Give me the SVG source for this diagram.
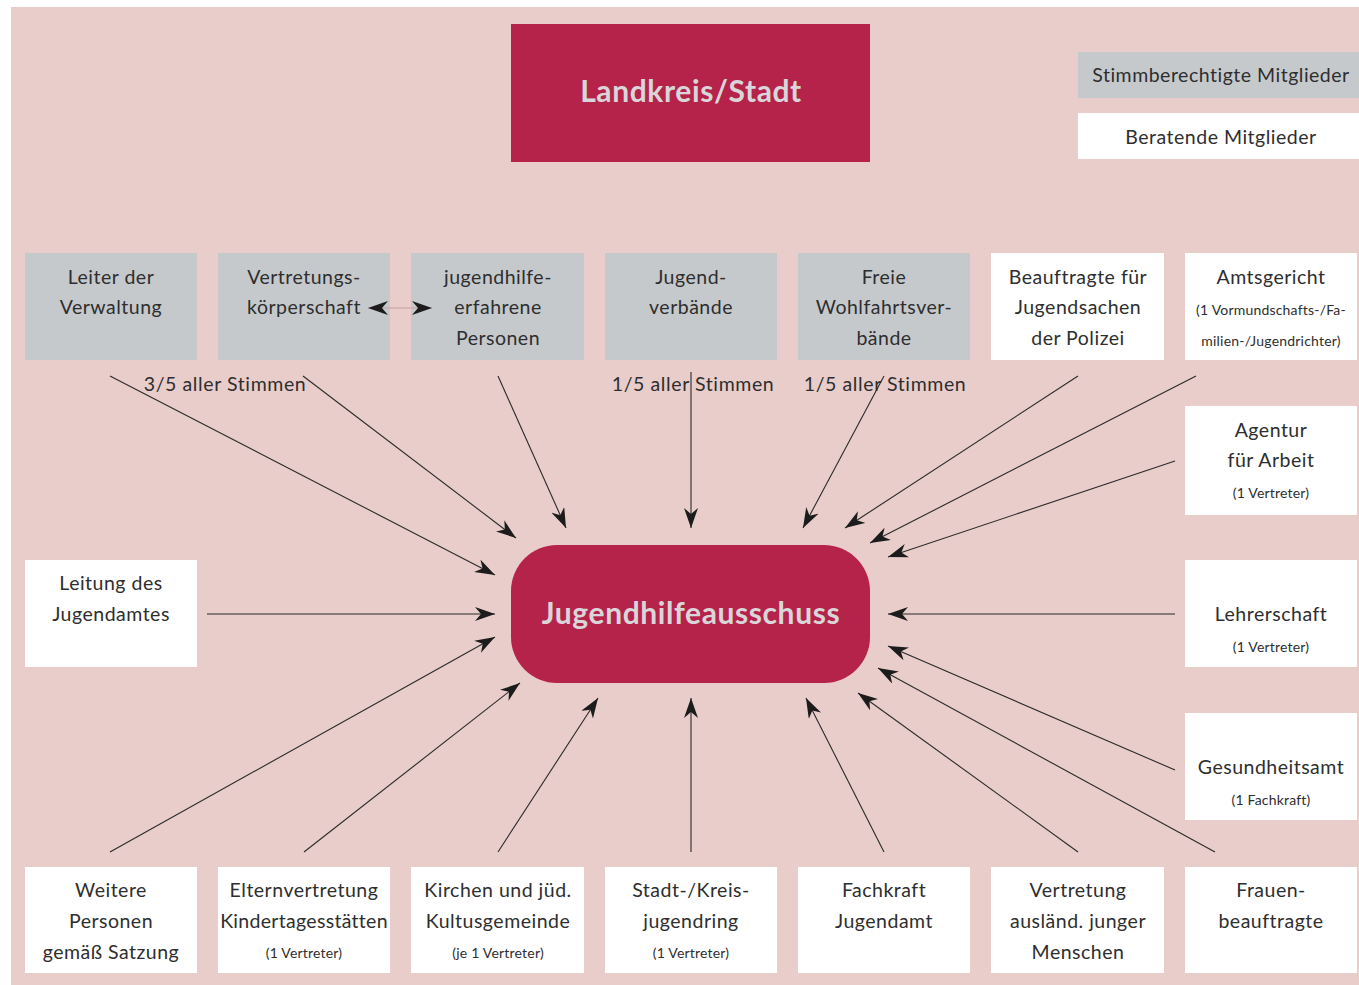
<svg xmlns="http://www.w3.org/2000/svg" width="1359" height="985" viewBox="0 0 1359 985">
<defs>
<marker id="ah" viewBox="0 0 20 14" refX="20" refY="7" markerWidth="20" markerHeight="14" markerUnits="userSpaceOnUse" orient="auto">
<path d="M0,0 L20,7 L0,14 L6,7 Z" fill="#1c1c1c"/>
</marker>
<marker id="ahs" viewBox="0 0 20 14" refX="20" refY="7" markerWidth="20" markerHeight="14" markerUnits="userSpaceOnUse" orient="auto-start-reverse">
<path d="M0,0 L20,7 L0,14 L6,7 Z" fill="#1c1c1c"/>
</marker>
<style>
.g{fill:#c6c9cc}
.w{fill:#ffffff}
.r{fill:#b5234a}
text{font-family:Lato,"Open Sans","Liberation Sans",sans-serif;fill:#2e2e2e;text-anchor:middle}
.t{font-size:19.5px;letter-spacing:0.5px}
.s{font-size:14px;letter-spacing:0.2px}
.xs{font-size:14px;letter-spacing:0.2px}
.h{font-size:30px;font-weight:bold;fill:#d9d6da;letter-spacing:0.6px}
.c line{stroke:#2a2a2a;stroke-width:1.1;marker-end:url(#ah)}
.lbl{font-size:19.5px;letter-spacing:0.6px}
</style>
</defs>
<rect x="11" y="7" width="1348" height="978" fill="#e9cdcb"/>

<g id="legend-stimm"><rect class="g" x="1078" y="52" width="281" height="46"/><text class="t" x="1221" y="82">Stimmberechtigte Mitglieder</text></g>
<g id="legend-berat"><rect class="w" x="1078" y="113" width="281" height="46"/><text class="t" x="1221" y="144">Beratende Mitglieder</text></g>

<g id="landkreis"><rect class="r" x="511" y="24" width="359" height="138"/><text class="h" x="691" y="102">Landkreis/Stadt</text></g>
<g id="jha"><rect class="r" x="511" y="545" width="359" height="138" rx="46"/><text class="h" x="691" y="624">Jugendhilfeausschuss</text></g>

<g id="n-leiter"><rect class="g" x="25" y="253" width="172" height="107"/><text class="t" x="111" y="284">Leiter der</text><text class="t" x="111" y="314">Verwaltung</text></g>
<g id="n-vertretungs"><rect class="g" x="218" y="253" width="172" height="107"/><text class="t" x="304" y="284">Vertretungs-</text><text class="t" x="304" y="314">körperschaft</text></g>
<g id="n-jugendhilfe"><rect class="g" x="411" y="253" width="173" height="107"/><text class="t" x="498" y="284">jugendhilfe-</text><text class="t" x="498" y="314">erfahrene</text><text class="t" x="498" y="345">Personen</text></g>
<g id="n-jugendverb"><rect class="g" x="605" y="253" width="172" height="107"/><text class="t" x="691" y="284">Jugend-</text><text class="t" x="691" y="314">verbände</text></g>
<g id="n-wohlfahrt"><rect class="g" x="798" y="253" width="172" height="107"/><text class="t" x="884" y="284">Freie</text><text class="t" x="884" y="314">Wohlfahrtsver-</text><text class="t" x="884" y="345">bände</text></g>
<g id="n-polizei"><rect class="w" x="991" y="253" width="173" height="107"/><text class="t" x="1078" y="284">Beauftragte für</text><text class="t" x="1078" y="314">Jugendsachen</text><text class="t" x="1078" y="345">der Polizei</text></g>
<g id="n-amtsgericht"><rect class="w" x="1185" y="253" width="172" height="107"/><text class="t" x="1271" y="284">Amtsgericht</text><text class="xs" x="1271" y="315">(1 Vormundschafts-/Fa-</text><text class="xs" x="1271" y="346">milien-/Jugendrichter)</text></g>

<g id="n-agentur"><rect class="w" x="1185" y="406" width="172" height="109"/><text class="t" x="1271" y="437">Agentur</text><text class="t" x="1271" y="467">für Arbeit</text><text class="s" x="1271" y="498">(1 Vertreter)</text></g>
<g id="n-lehrer"><rect class="w" x="1185" y="560" width="172" height="107"/><text class="t" x="1271" y="621">Lehrerschaft</text><text class="s" x="1271" y="652">(1 Vertreter)</text></g>
<g id="n-gesund"><rect class="w" x="1185" y="713" width="172" height="107"/><text class="t" x="1271" y="774">Gesundheitsamt</text><text class="s" x="1271" y="805">(1 Fachkraft)</text></g>

<g id="n-leitung"><rect class="w" x="25" y="560" width="172" height="107"/><text class="t" x="111" y="590">Leitung des</text><text class="t" x="111" y="621">Jugendamtes</text></g>

<g id="n-weitere"><rect class="w" x="25" y="867" width="172" height="106"/><text class="t" x="111" y="897">Weitere</text><text class="t" x="111" y="928">Personen</text><text class="t" x="111" y="959">gemäß Satzung</text></g>
<g id="n-eltern"><rect class="w" x="218" y="867" width="172" height="106"/><text class="t" x="304" y="897">Elternvertretung</text><text class="t" x="304" y="928" style="letter-spacing:0.3px">Kindertagesstätten</text><text class="s" x="304" y="958">(1 Vertreter)</text></g>
<g id="n-kirchen"><rect class="w" x="411" y="867" width="173" height="106"/><text class="t" x="498" y="897">Kirchen und jüd.</text><text class="t" x="498" y="928">Kultusgemeinde</text><text class="s" x="498" y="958">(je 1 Vertreter)</text></g>
<g id="n-stadtjugendring"><rect class="w" x="605" y="867" width="172" height="106"/><text class="t" x="691" y="897">Stadt-/Kreis-</text><text class="t" x="691" y="928">jugendring</text><text class="s" x="691" y="958">(1 Vertreter)</text></g>
<g id="n-fachkraft"><rect class="w" x="798" y="867" width="172" height="106"/><text class="t" x="884" y="897">Fachkraft</text><text class="t" x="884" y="928">Jugendamt</text></g>
<g id="n-auslaend"><rect class="w" x="991" y="867" width="173" height="106"/><text class="t" x="1078" y="897">Vertretung</text><text class="t" x="1078" y="928">ausländ. junger</text><text class="t" x="1078" y="959">Menschen</text></g>
<g id="n-frauen"><rect class="w" x="1185" y="867" width="172" height="106"/><text class="t" x="1271" y="897">Frauen-</text><text class="t" x="1271" y="928">beauftragte</text></g>

<g id="labels">
<text class="lbl" x="225" y="391">3/5 aller Stimmen</text>
<text class="lbl" x="693" y="391">1/5 aller Stimmen</text>
<text class="lbl" x="885" y="391">1/5 aller Stimmen</text>
</g>

<g id="connectors" class="c">
<line x1="368" y1="308" x2="432" y2="308" style="stroke:#c9a0a4;marker-start:url(#ahs)"/>
<line x1="110" y1="376" x2="495" y2="575"/>
<line x1="303" y1="376" x2="516" y2="538"/>
<line x1="498" y1="376" x2="566" y2="528"/>
<line x1="691" y1="372" x2="691" y2="528"/>
<line x1="884" y1="376" x2="803" y2="528"/>
<line x1="1078" y1="376" x2="845" y2="528"/>
<line x1="1196" y1="376" x2="870" y2="543"/>
<line x1="1175" y1="461" x2="888" y2="557"/>
<line x1="207" y1="614" x2="495" y2="614"/>
<line x1="1175" y1="614" x2="888" y2="614"/>
<line x1="1175" y1="770" x2="888" y2="646"/>
<line x1="1215" y1="852" x2="878" y2="668"/>
<line x1="1078" y1="852" x2="858" y2="693"/>
<line x1="884" y1="852" x2="806" y2="698"/>
<line x1="691" y1="852" x2="691" y2="698"/>
<line x1="498" y1="852" x2="598" y2="698"/>
<line x1="304" y1="852" x2="520" y2="683"/>
<line x1="110" y1="852" x2="495" y2="637"/>
</g>
</svg>
